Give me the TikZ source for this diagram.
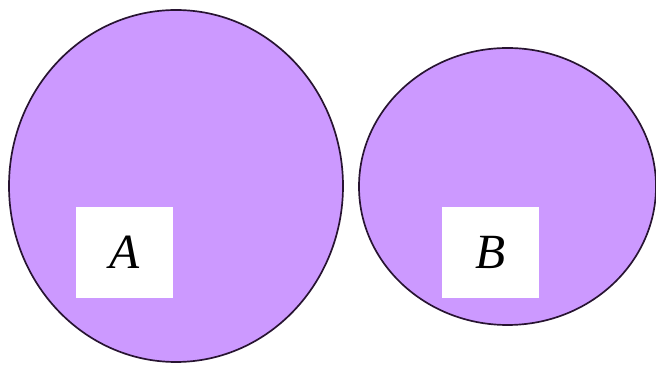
\documentclass[tikz,border=0pt]{standalone}
\usepackage{fontspec}
\setmainfont{Liberation Serif}
\usepackage{tikz}
\usetikzlibrary{shapes.geometric, positioning}
\definecolor{setfill}{RGB}{204,153,255}
\definecolor{setline}{RGB}{40,20,50}
\tikzset{
  setshape/.style={ellipse, draw=setline, fill=setfill, line width=1.2pt, inner sep=0pt},
  labelbox/.style={rectangle, fill=white, inner sep=0pt, font=\fontsize{35}{40}\selectfont\itshape}
}
\begin{document}
\begin{tikzpicture}[x=0.025cm, y=-0.025cm]
  \useasboundingbox[fill=white] (0, 0) rectangle (656, 365);

  % Set A
  \node[setshape, minimum width=334*0.025cm, minimum height=352*0.025cm] (setA) at (176, 186) {};
  \node[labelbox, minimum width=97*0.025cm, minimum height=91*0.025cm] (boxA) at (124.5, 252.5) {A};

  % Set B
  \node[setshape, minimum width=297*0.025cm, minimum height=277*0.025cm] (setB) at (507.5, 186.5) {};
  \node[labelbox, minimum width=97*0.025cm, minimum height=91*0.025cm] (boxB) at (490.5, 252.5) {B};
\end{tikzpicture}
\end{document}
